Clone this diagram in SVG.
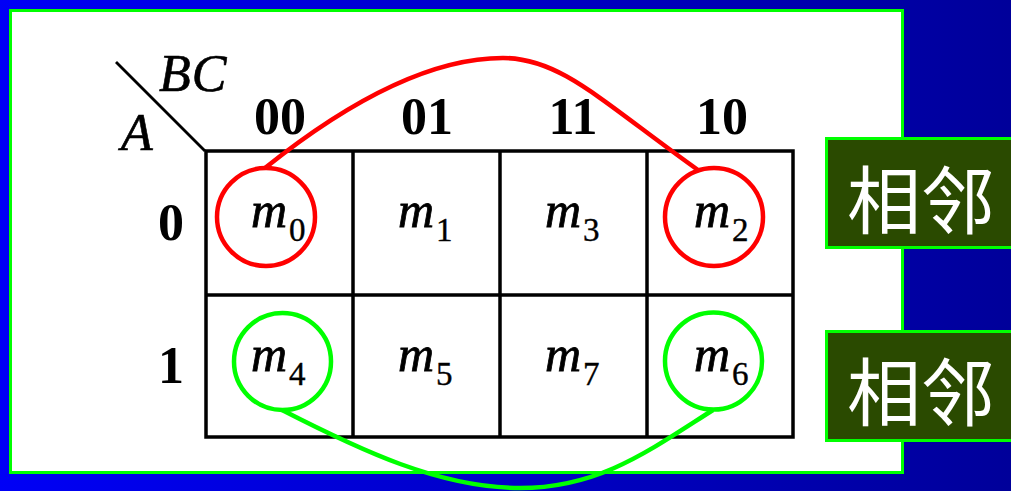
<svg xmlns="http://www.w3.org/2000/svg" width="1011" height="491" viewBox="0 0 1011 491">
  <defs>
    <linearGradient id="bg" x1="0" y1="0" x2="1" y2="0">
      <stop offset="0" stop-color="#0000f6"/>
      <stop offset="1" stop-color="#00009a"/>
    </linearGradient>
    <style>
      .grid{fill:none;stroke:#000;stroke-width:3.5}
      .hdr{font-family:"Liberation Serif","Times New Roman",serif;font-weight:bold;font-size:52px;fill:#000;text-anchor:middle}
      .var{font-family:"Liberation Serif","Times New Roman",serif;font-style:italic;font-size:52px;fill:#000;stroke:#000;stroke-width:0.6;letter-spacing:1px}
      .m{font-family:"Liberation Serif","Times New Roman",serif;font-style:italic;font-size:50px;fill:#000;stroke:#000;stroke-width:0.8}
      .sub{font-family:"Liberation Serif","Times New Roman",serif;font-size:33px;fill:#000;stroke:#000;stroke-width:0.4}
      .red{fill:none;stroke:#ff0000;stroke-width:4.5}
      .grn{fill:none;stroke:#00ff00;stroke-width:4.5}
      .tag{fill:#2a4a00;stroke:#00ff00;stroke-width:3}
      .tagt{font-family:"Noto Sans CJK SC","Noto Sans CJK JP",sans-serif;font-size:74px;fill:#ffffff}
    </style>
  </defs>
  <rect x="0" y="0" width="1011" height="491" fill="url(#bg)"/>
  <rect x="10.5" y="10.5" width="892" height="462" fill="#ffffff" stroke="#00ff00" stroke-width="3"/>

  <g id="kmap">
    <line x1="116" y1="62" x2="205" y2="151" stroke="#000" stroke-width="2.8"/>
    <text class="var" x="159" y="91">BC</text>
    <text class="var" x="121" y="150">A</text>
    <text class="hdr" x="280" y="134">00</text>
    <text class="hdr" x="427" y="134">01</text>
    <text class="hdr" x="573" y="134">11</text>
    <text class="hdr" x="722" y="134">10</text>
    <text class="hdr" x="171" y="240">0</text>
    <text class="hdr" x="171" y="383">1</text>
    <rect class="grid" x="206" y="151" width="587" height="286"/>
    <line class="grid" x1="206" y1="295" x2="793" y2="295"/>
    <line class="grid" x1="353" y1="151" x2="353" y2="437"/>
    <line class="grid" x1="500" y1="151" x2="500" y2="437"/>
    <line class="grid" x1="647" y1="151" x2="647" y2="437"/>
  </g>

  <g id="m0"><text class="m" x="251" y="227">m</text><text class="sub" x="289" y="241">0</text></g>
  <g id="m1"><text class="m" x="398" y="227">m</text><text class="sub" x="436" y="241">1</text></g>
  <g id="m3"><text class="m" x="545" y="227">m</text><text class="sub" x="583" y="241">3</text></g>
  <g id="m2"><text class="m" x="694" y="227">m</text><text class="sub" x="732" y="241">2</text></g>
  <g id="m4"><text class="m" x="251" y="371">m</text><text class="sub" x="289" y="385">4</text></g>
  <g id="m5"><text class="m" x="398" y="371">m</text><text class="sub" x="436" y="385">5</text></g>
  <g id="m7"><text class="m" x="545" y="371">m</text><text class="sub" x="583" y="385">7</text></g>
  <g id="m6"><text class="m" x="694" y="371">m</text><text class="sub" x="732" y="385">6</text></g>

  <g id="circle-m0"><circle class="red" cx="266" cy="217" r="49"/></g>
  <g id="circle-m2"><circle class="red" cx="714" cy="217" r="49"/></g>
  <g id="circle-m4"><circle class="grn" cx="282.5" cy="361.5" r="48.5"/></g>
  <g id="circle-m6"><circle class="grn" cx="713.5" cy="361" r="48.5"/></g>

  <g id="connectors">
    <path class="red" d="M265,168 C350,100 430,58 503,58 C560,58 600,100 698,170"/>
    <path class="grn" d="M282,410 C360,450 440,488 520,488 C600,488 650,450 713,410"/>
  </g>

  <g id="tag1">
    <rect class="tag" x="826.5" y="138.5" width="190" height="109"/>
    <text class="tagt" x="847" y="228">相邻</text>
  </g>
  <g id="tag2">
    <rect class="tag" x="826.5" y="331.5" width="190" height="109"/>
    <text class="tagt" x="847" y="420">相邻</text>
  </g>
</svg>
